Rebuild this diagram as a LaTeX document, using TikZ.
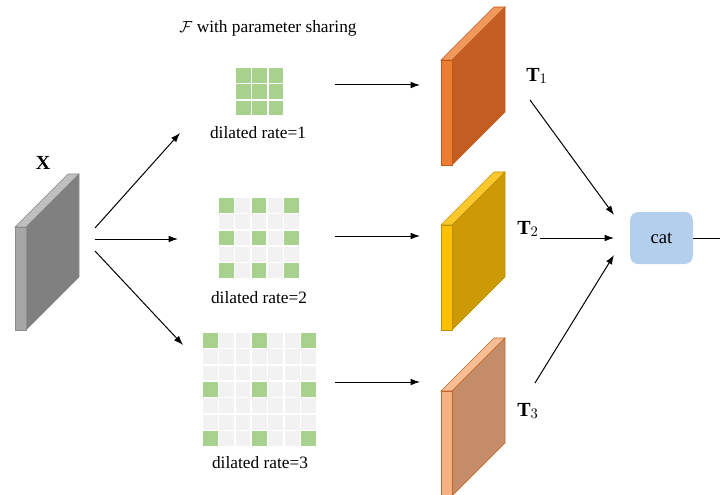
\documentclass[tikz,border=0pt]{standalone}
\usepackage{fontspec}
\setmainfont{Liberation Serif}
\usetikzlibrary{arrows.meta}

\definecolor{cellgreen}{RGB}{169,209,142}
\definecolor{cellgray}{RGB}{242,242,242}
\definecolor{catblue}{RGB}{180,207,236}
% slab colours: front strip, big face, top, edge
\definecolor{Xfront}{RGB}{166,166,166}\definecolor{Xface}{RGB}{128,128,128}
\definecolor{Xtop}{RGB}{191,191,191}\definecolor{Xedge}{RGB}{140,140,140}
\definecolor{Tonefront}{RGB}{237,125,49}\definecolor{Toneface}{RGB}{194,94,34}
\definecolor{Tonetop}{RGB}{243,152,92}\definecolor{Toneedge}{RGB}{190,90,30}
\definecolor{Ttwofront}{RGB}{255,192,0}\definecolor{Ttwoface}{RGB}{204,154,6}
\definecolor{Ttwotop}{RGB}{250,200,45}\definecolor{Ttwoedge}{RGB}{191,144,0}
\definecolor{Tthreefront}{RGB}{244,177,131}\definecolor{Tthreeface}{RGB}{196,140,104}
\definecolor{Tthreetop}{RGB}{247,190,150}\definecolor{Tthreeedge}{RGB}{197,100,40}

\tikzset{
  flow/.style={-{Latex[length=7pt,width=5pt]}, line width=0.75},
  cell/.style={draw=white, line width=1.1},
  caption/.style={font=\fontsize{13}{15}\selectfont},
  tlabel/.style={font=\fontsize{15}{17}\selectfont},
}

% #1 name, #2 left, #3 top, #4 cells per side, #5 rate
\newcommand{\kernelgrid}[5]{%
  \pgfmathtruncatemacro{\kmax}{#4-1}
  \foreach \i in {0,...,\kmax}{
    \foreach \j in {0,...,\kmax}{
      \pgfmathtruncatemacro{\hit}{(mod(\i,#5)==0)&&(mod(\j,#5)==0)}
      \ifnum\hit=1 \def\cc{cellgreen}\else\def\cc{cellgray}\fi
      \filldraw[cell, fill=\cc] (#2+\i*16.4, #3+\j*16.4) rectangle ++(16.4,16.4);
    }
  }
  \coordinate (#1) at (#2+#4*8.2, #3+#4*8.2);
}

% #1 name, #2 left, #3 top, #4 height, #5 colour prefix
\newcommand{\slab}[5]{%
  \filldraw[draw=#5edge, fill=#5top] (#2,#3) -- ++(53,-53) -- ++(11,0) -- ++(-53,53) -- cycle;
  \filldraw[draw=#5edge, fill=#5face] (#2+11,#3) -- ++(53,-53) -- ++(0,#4) -- ++(-53,53) -- cycle;
  \filldraw[draw=#5edge, fill=#5front] (#2,#3) rectangle ++(11,#4);
  \coordinate (#1) at (#2+32, #3+#4/2-26);
}

\begin{document}
\begin{tikzpicture}[x=0.75pt,y=0.75pt,yscale=-1,xscale=1]
\useasboundingbox (0,0) rectangle (720,495);

%=====Input=======
\slab{X}{15}{227}{103}{X}
\node[tlabel] (xlabel) at (43,163) {\textbf{X}};

%=====Kernels=======
\node[caption] (title) at (268,28) {$\mathcal{F}$ with parameter sharing};

\kernelgrid{g1}{235}{67}{3}{1}
\node[caption] (r1) at (258,133) {dilated rate=1};

\kernelgrid{g2}{218}{197}{5}{2}
\node[caption] (r2) at (259,298) {dilated rate=2};

\kernelgrid{g3}{202}{332}{7}{3}
\node[caption] (r3) at (260,463) {dilated rate=3};

%=====Outputs=======
\slab{T1}{441}{60}{105}{Tone}
\slab{T2}{441}{225}{105}{Ttwo}
\slab{T3}{441}{391}{105}{Tthree}

\node[tlabel] (t1label) at (537,76) {$\mathbf{T}_1$};
\node[tlabel] (t2label) at (528,229) {$\mathbf{T}_2$};
\node[tlabel] (t3label) at (528,411) {$\mathbf{T}_3$};

\node[fill=catblue, rounded corners=6pt, minimum width=47pt, minimum height=39pt,
      font=\fontsize{14}{16}\selectfont] (cat) at (661.5,238) {cat};

%=====Arrow ends=======
\coordinate (xo1) at (95,228);  \coordinate (g1in) at (180,133);
\coordinate (xo2) at (95,239);  \coordinate (g2in) at (178,239);
\coordinate (xo3) at (95,251);  \coordinate (g3in) at (183,345);

\coordinate (g1out) at (335,85);  \coordinate (t1in) at (420,85);
\coordinate (g2out) at (335,236); \coordinate (t2in) at (420,236);
\coordinate (g3out) at (335,382); \coordinate (t3in) at (420,382);

\coordinate (t1out) at (530,100); \coordinate (c1) at (614,215);
\coordinate (t2out) at (540,238); \coordinate (c2) at (614,238);
\coordinate (t3out) at (535,383); \coordinate (c3) at (614,255);
\coordinate (catout) at (720,238);

%=====Arrows=======
\draw[flow] (xo1) -- (g1in);
\draw[flow] (xo2) -- (g2in);
\draw[flow] (xo3) -- (g3in);

\draw[flow] (g1out) -- (t1in);
\draw[flow] (g2out) -- (t2in);
\draw[flow] (g3out) -- (t3in);

\draw[flow] (t1out) -- (c1);
\draw[flow] (t2out) -- (c2);
\draw[flow] (t3out) -- (c3);

\draw[line width=0.75] (cat.east) -- (catout);

\end{tikzpicture}
\end{document}
